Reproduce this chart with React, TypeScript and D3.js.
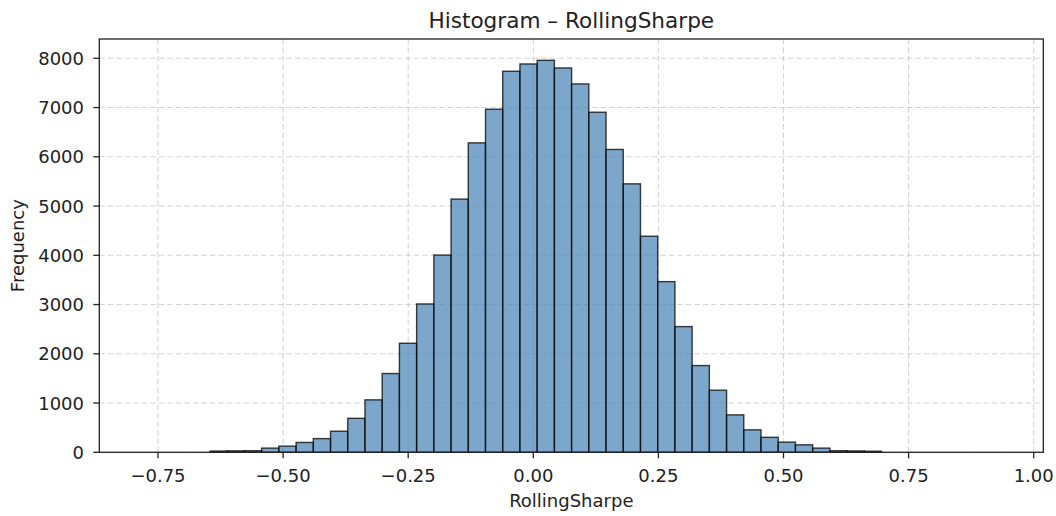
import React from "react";
import * as d3 from "d3";

// Histogram bins (50 equal-width bins)
const BIN_START = -0.7837;
const BIN_WIDTH = 0.03441;
const counts = [
  0, 0, 0, 0, 25, 30, 32, 85, 125, 200,
  278, 428, 690, 1065, 1599, 2214, 3012, 4005, 5141, 6283,
  6966, 7737, 7885, 7959, 7804, 7480, 6905, 6149, 5451, 4387,
  3465, 2552, 1761, 1261, 760, 456, 304, 207, 152, 85,
  32, 28, 22, 0, 0, 0, 0, 0, 0, 0,
];
const xTicks = [-0.75, -0.5, -0.25, 0, 0.25, 0.5, 0.75, 1.0];
const yTicks = [0, 1000, 2000, 3000, 4000, 5000, 6000, 7000, 8000];
const xDomain = [-0.8673, 1.0192];
const yDomain = [0, 8392];
const title = "Histogram \u2013 RollingSharpe";
const xLabel = "RollingSharpe";
const yLabel = "Frequency";

const W = 1056;
const H = 516;
const left = 99.3;
const right = 1043.3;
const top = 39;
const bottom = 452.3;

export default function App() {
  const x = d3.scaleLinear().domain(xDomain).range([left, right]);
  const y = d3.scaleLinear().domain(yDomain).range([bottom, top]);
  const fmtX = (v: number) => d3.format(".2f")(v).replace("-", "\u2212");
  const font = "'DejaVu Sans', sans-serif";
  const bins = counts.map((c, i) => ({
    x0: BIN_START + i * BIN_WIDTH,
    x1: BIN_START + (i + 1) * BIN_WIDTH,
    c,
  }));
  return (
    <svg
      width={W}
      height={H}
      style={{ position: "absolute", left: 0, top: 0, background: "#fff" }}
      fontFamily={font}
    >
      <rect x={0} y={0} width={W} height={H} fill="#fff" />
      {/* grid */}
      <g stroke="#b0b0b0" strokeOpacity={0.55} strokeWidth={1.1} strokeDasharray="5.5,3">
        {xTicks.map((t) => (
          <line key={"gx" + t} x1={x(t)} x2={x(t)} y1={top} y2={bottom} />
        ))}
        {yTicks.map((t) => (
          <line key={"gy" + t} x1={left} x2={right} y1={y(t)} y2={y(t)} />
        ))}
      </g>
      {/* bars */}
      <g>
        {bins
          .filter((b) => b.c > 0)
          .map((b, i) => (
            <rect
              key={i}
              x={x(b.x0)}
              y={y(b.c)}
              width={x(b.x1) - x(b.x0)}
              height={y(0) - y(b.c)}
              fill="steelblue"
              fillOpacity={0.7}
              stroke="#000"
              strokeOpacity={0.75}
              strokeWidth={1.4}
            />
          ))}
      </g>
      {/* frame */}
      <rect
        x={left}
        y={top}
        width={right - left}
        height={bottom - top}
        fill="none"
        stroke="#222"
        strokeWidth={1.3}
      />
      {/* x ticks */}
      <g fontSize={18} fill="#222" textAnchor="middle">
        {xTicks.map((t) => (
          <g key={"xt" + t}>
            <line x1={x(t)} x2={x(t)} y1={bottom} y2={bottom + 6} stroke="#222" strokeWidth={1.3} />
            <text x={x(t)} y={482}>
              {fmtX(t)}
            </text>
          </g>
        ))}
      </g>
      {/* y ticks */}
      <g fontSize={18} fill="#222" textAnchor="end">
        {yTicks.map((t) => (
          <g key={"yt" + t}>
            <line x1={left - 6} x2={left} y1={y(t)} y2={y(t)} stroke="#222" strokeWidth={1.3} />
            <text x={84} y={y(t) + 6.5}>
              {t}
            </text>
          </g>
        ))}
      </g>
      <text x={(left + right) / 2} y={507} textAnchor="middle" fontSize={18} fill="#222">
        {xLabel}
      </text>
      <text
        transform={`translate(24, ${(top + bottom) / 2}) rotate(-90)`}
        textAnchor="middle"
        fontSize={18}
        fill="#222"
      >
        {yLabel}
      </text>
      <text x={(left + right) / 2} y={28} textAnchor="middle" fontSize={21.6} fill="#222">
        {title}
      </text>
    </svg>
  );
}
